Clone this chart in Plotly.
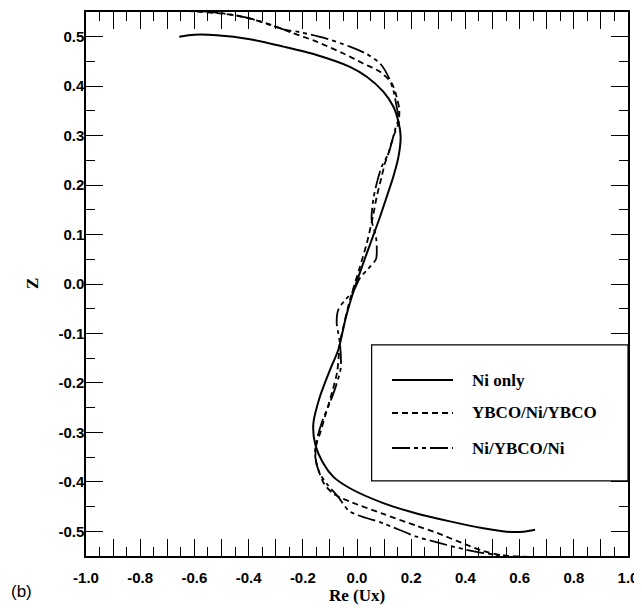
import plotly.graph_objects as go

# ---- data (Re(Ux) vs Z) ----
ni_only_x = [-0.656, -0.60, -0.518, -0.395, -0.272, -0.149, -0.026, 0.036, 0.097, 0.134, 0.153, 0.161,
             0.153, 0.134, 0.110, 0.085, 0.054, 0.023, -0.007, -0.040, -0.069, -0.100, -0.137, -0.161,
             -0.155, -0.124, -0.087, -0.026, 0.097, 0.220, 0.343, 0.466, 0.552, 0.614, 0.657]
ni_only_z = [0.500, 0.504, 0.503, 0.495, 0.480, 0.463, 0.439, 0.419, 0.389, 0.359, 0.328, 0.298,
             0.257, 0.217, 0.177, 0.136, 0.089, 0.042, -0.005, -0.065, -0.133, -0.174, -0.228, -0.282,
             -0.322, -0.363, -0.390, -0.413, -0.443, -0.464, -0.480, -0.494, -0.501, -0.501, -0.497]

ybco_x = [-0.628, -0.456, -0.333, -0.235, -0.149, -0.050, 0.023, 0.085, 0.128, 0.146, 0.156, 0.153,
          0.134, 0.116, 0.103, 0.091, 0.073, 0.060, 0.036, 0.011, -0.026, -0.050, -0.063, -0.073,
          -0.091, -0.116, -0.134, -0.150, -0.153, -0.140, -0.120, -0.085, -0.026, 0.097, 0.220,
          0.294, 0.380, 0.466, 0.530, 0.650]
ybco_z = [0.552, 0.544, 0.527, 0.507, 0.490, 0.466, 0.446, 0.429, 0.406, 0.379, 0.352, 0.325,
          0.298, 0.264, 0.244, 0.217, 0.177, 0.140, 0.082, 0.035, -0.032, -0.086, -0.120, -0.177,
          -0.217, -0.264, -0.298, -0.325, -0.352, -0.380, -0.405, -0.425, -0.440, -0.465, -0.489,
          -0.503, -0.522, -0.540, -0.548, -0.552]

niybco_x = [-0.580, -0.493, -0.395, -0.272, -0.210, -0.124, -0.026, 0.036, 0.085, 0.116, 0.134, 0.146,
            0.153, 0.140, 0.116, 0.091, 0.073, 0.060, 0.054, 0.070, 0.073, 0.070, 0.040, 0.011,
            -0.011, -0.040, -0.069, -0.075, -0.069, -0.063, -0.060, -0.080, -0.100, -0.130, -0.150,
            -0.155, -0.140, -0.110, -0.070, -0.026, 0.097, 0.220, 0.306, 0.400, 0.466, 0.550]
niybco_z = [0.552, 0.547, 0.537, 0.515, 0.509, 0.498, 0.480, 0.465, 0.446, 0.419, 0.392, 0.359,
            0.335, 0.311, 0.264, 0.237, 0.204, 0.170, 0.130, 0.095, 0.070, 0.050, 0.030, 0.012,
            -0.012, -0.030, -0.052, -0.079, -0.100, -0.120, -0.170, -0.210, -0.240, -0.280, -0.320,
            -0.345, -0.380, -0.405, -0.430, -0.460, -0.484, -0.511, -0.524, -0.537, -0.544, -0.550]

series_names = ["Ni only", "YBCO/Ni/YBCO", "Ni/YBCO/Ni"]
series_dash = ["solid", "6px,4px", "18px,4px,4px,4px,4px,4px"]

x_tickvals = [round(-1.0 + 0.1 * i, 1) for i in range(21)]
x_ticktext = [f"{v:.1f}" if i % 2 == 0 else "" for i, v in enumerate(x_tickvals)]
y_tickvals = [round(-0.5 + 0.1 * i, 1) for i in range(11)]
y_ticktext = [f"{v:.1f}" for v in y_tickvals]

fig = go.Figure()
for xs, zs, name, dash in zip([ni_only_x, ybco_x, niybco_x], [ni_only_z, ybco_z, niybco_z],
                              series_names, series_dash):
    fig.add_trace(go.Scatter(x=xs, y=zs, mode="lines", name=name,
                             line=dict(color="black", width=2 if dash == "solid" else 1.8,
                                       dash=dash, shape="spline", smoothing=0.8),
                             showlegend=False))

tickfont = dict(family="Liberation Sans", size=15, color="black", weight="bold")
titlefont = dict(family="Liberation Serif", size=17, color="black", weight="bold")

fig.update_xaxes(range=[-1.0, 1.0], showline=True, mirror="allticks", linecolor="black", linewidth=1.5,
                 ticks="inside", ticklen=17, tickwidth=1.2, tickcolor="black",
                 tickvals=x_tickvals, ticktext=x_ticktext, tickfont=tickfont,
                 minor=dict(dtick=0.05, ticks="inside", ticklen=9, tickwidth=1.2, tickcolor="black", showgrid=False),
                 showgrid=False, zeroline=False, ticklabelstandoff=7, automargin=False,
                 title=dict(text="Re (Ux)", font=titlefont, standoff=0))
fig.update_yaxes(range=[-0.55, 0.55], showline=True, mirror="allticks", linecolor="black", linewidth=1.5,
                 ticks="inside", ticklen=17, tickwidth=1.2, tickcolor="black",
                 tickvals=y_tickvals, ticktext=y_ticktext, tickfont=tickfont,
                 minor=dict(dtick=0.05, ticks="inside", ticklen=9, tickwidth=1.2, tickcolor="black", showgrid=False),
                 showgrid=False, zeroline=False, ticklabelstandoff=-3, automargin=False)

# custom legend box
shapes = [dict(type="rect", xref="paper", yref="paper", x0=0.527, x1=1.0, y0=0.138, y1=0.388,
               line=dict(color="black", width=1.2), fillcolor="white", layer="above")]
annotations = []
row_y = [0.3235, 0.2629, 0.1985]
for name, dash, yy in zip(series_names, series_dash, row_y):
    shapes.append(dict(type="line", xref="paper", yref="paper", x0=0.5646, x1=0.6771, y0=yy, y1=yy,
                       line=dict(color="black", width=2, dash=dash), layer="above"))
    annotations.append(dict(text=name, xref="paper", yref="paper", x=0.7085, y=yy, xanchor="left",
                            yanchor="middle", showarrow=False, font=titlefont))
annotations.append(dict(text="Z", xref="paper", yref="paper", x=-0.0996, y=0.5, xanchor="center",
                        yanchor="middle", textangle=-90, showarrow=False, font=titlefont))
annotations.append(dict(text="(b)", xref="paper", yref="paper", x=-0.142, y=-0.065, xanchor="left",
                        yanchor="middle", showarrow=False,
                        font=dict(family="Liberation Sans", size=17, color="black")))

# page body adds an 8px margin, so the figure is 8px smaller and shifted accordingly
fig.update_layout(width=634, height=600, margin=dict(l=78, r=14, t=4, b=52),
                  plot_bgcolor="white", paper_bgcolor="white",
                  shapes=shapes, annotations=annotations)

fig.write_html("out.html")
